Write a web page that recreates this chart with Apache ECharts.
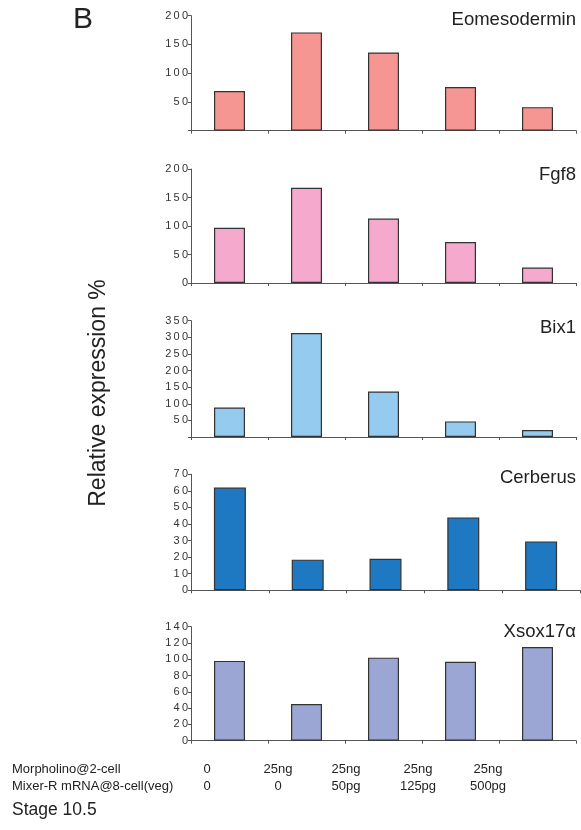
<!DOCTYPE html>
<html>
<head>
<meta charset="utf-8">
<script src="https://cdn.jsdelivr.net/npm/echarts@6/dist/echarts.min.js"></script>
<style>
html,body{margin:0;padding:0;background:#fff;}
#chart{width:581px;height:830px;}
</style>
</head>
<body>
<div id="chart"></div>
<script>
// ---- data ----
const categories = ['g1', 'g2', 'g3', 'g4', 'g5'];
const genes = ['Eomesodermin', 'Fgf8', 'Bix1', 'Cerberus', 'Xsox17\u03B1'];
const eomesodermin = [69, 171, 136, 76, 41];
const fgf8 = [97, 167, 113, 72, 27];
const bix1 = [89, 313, 137, 47, 21];
const cerberus = [62, 18.5, 19, 44, 29.5];
const xsox17a = [98, 45, 102, 97, 115];
const yMax = [200, 200, 350, 70, 140];
const yStep = [50, 50, 50, 10, 20];
const morpholino = ['0', '25ng', '25ng', '25ng', '25ng'];
const mixerR = ['0', '0', '50pg', '125pg', '500pg'];
const rowLabels = ['Morpholino@2-cell', 'Mixer-R mRNA@8-cell(veg)'];
const panelLetter = 'B';
const yTitle = 'Relative expression %';
const stageLabel = 'Stage 10.5';

// ---- layout / style ----
const seriesValues = [eomesodermin, fgf8, bix1, cerberus, xsox17a];
const colors = ['#F59692', '#F5A9CC', '#94CBEE', '#1E78C2', '#9BA6D5'];
const hideZero = [true, false, true, false, false];
const gridTop = [15.7, 169, 320.7, 474.3, 626.7];
const gridBottom = [130.7, 283, 437, 590.3, 740.7];
const gridRight = [576, 576, 576, 580, 576];
const titleY = [20.5, 176, 328.5, 478.5, 633];
const labelX = [207, 278, 346, 418, 488];
const FONT = 'Liberation Sans, Arial, sans-serif';

function spaced(v) {
  return String(v).split('').join('\u2009');
}

const grids = [], xAxes = [], yAxes = [], series = [], graphics = [];
for (let i = 0; i < 5; i++) {
  grids.push({
    left: 191, width: gridRight[i] - 191,
    top: gridTop[i], height: gridBottom[i] - gridTop[i],
    containLabel: false
  });
  xAxes.push({
    type: 'category', gridIndex: i, data: categories, boundaryGap: true,
    axisLine: { lineStyle: { color: '#555', width: 1 } },
    axisTick: { show: true, length: 3, lineStyle: { color: '#555' } },
    axisLabel: { show: false }
  });
  const hz = hideZero[i];
  yAxes.push({
    type: 'value', gridIndex: i, min: 0, max: yMax[i], interval: yStep[i],
    splitLine: { show: false },
    axisLine: { show: true, lineStyle: { color: '#555', width: 1 } },
    axisTick: { show: true, length: 3, lineStyle: { color: '#555' } },
    axisLabel: {
      fontFamily: FONT, fontSize: 11, color: '#333', margin: 3,
      formatter: function (v) { return (hz && v === 0) ? '' : spaced(v); }
    }
  });
  series.push({
    type: 'bar', xAxisIndex: i, yAxisIndex: i, data: seriesValues[i],
    barWidth: i === 3 ? 32 : 31,
    itemStyle: { color: colors[i], borderColor: '#333', borderWidth: 1.2 }
  });
  graphics.push({
    type: 'text', right: 5, top: titleY[i] - 10.5,
    style: { text: genes[i], font: '18.5px ' + FONT, fill: '#222' }
  });
}

graphics.push({
  type: 'text', left: 73, top: 5,
  style: { text: panelLetter, font: '30px ' + FONT, fill: '#222' }
});
graphics.push({
  type: 'text', x: 99, y: 393, rotation: Math.PI / 2,
  style: { text: yTitle, font: '23px ' + FONT, fill: '#222', align: 'center', verticalAlign: 'middle' }
});
const rowY = [769, 786];
const rowVals = [morpholino, mixerR];
for (let r = 0; r < 2; r++) {
  graphics.push({
    type: 'text', x: 12, y: rowY[r],
    style: { text: rowLabels[r], font: '13px ' + FONT, fill: '#222', align: 'left', verticalAlign: 'middle' }
  });
  for (let j = 0; j < 5; j++) {
    graphics.push({
      type: 'text', x: labelX[j], y: rowY[r],
      style: { text: rowVals[r][j], font: '13px ' + FONT, fill: '#222', align: 'center', verticalAlign: 'middle' }
    });
  }
}
graphics.push({
  type: 'text', x: 12, y: 810,
  style: { text: stageLabel, font: '17.5px ' + FONT, fill: '#222', align: 'left', verticalAlign: 'middle' }
});

const chart = echarts.init(document.getElementById('chart'), null, { renderer: 'canvas' });
chart.setOption({
  animation: false,
  backgroundColor: '#fff',
  grid: grids,
  xAxis: xAxes,
  yAxis: yAxes,
  series: series,
  graphic: graphics
});
</script>
</body>
</html>
